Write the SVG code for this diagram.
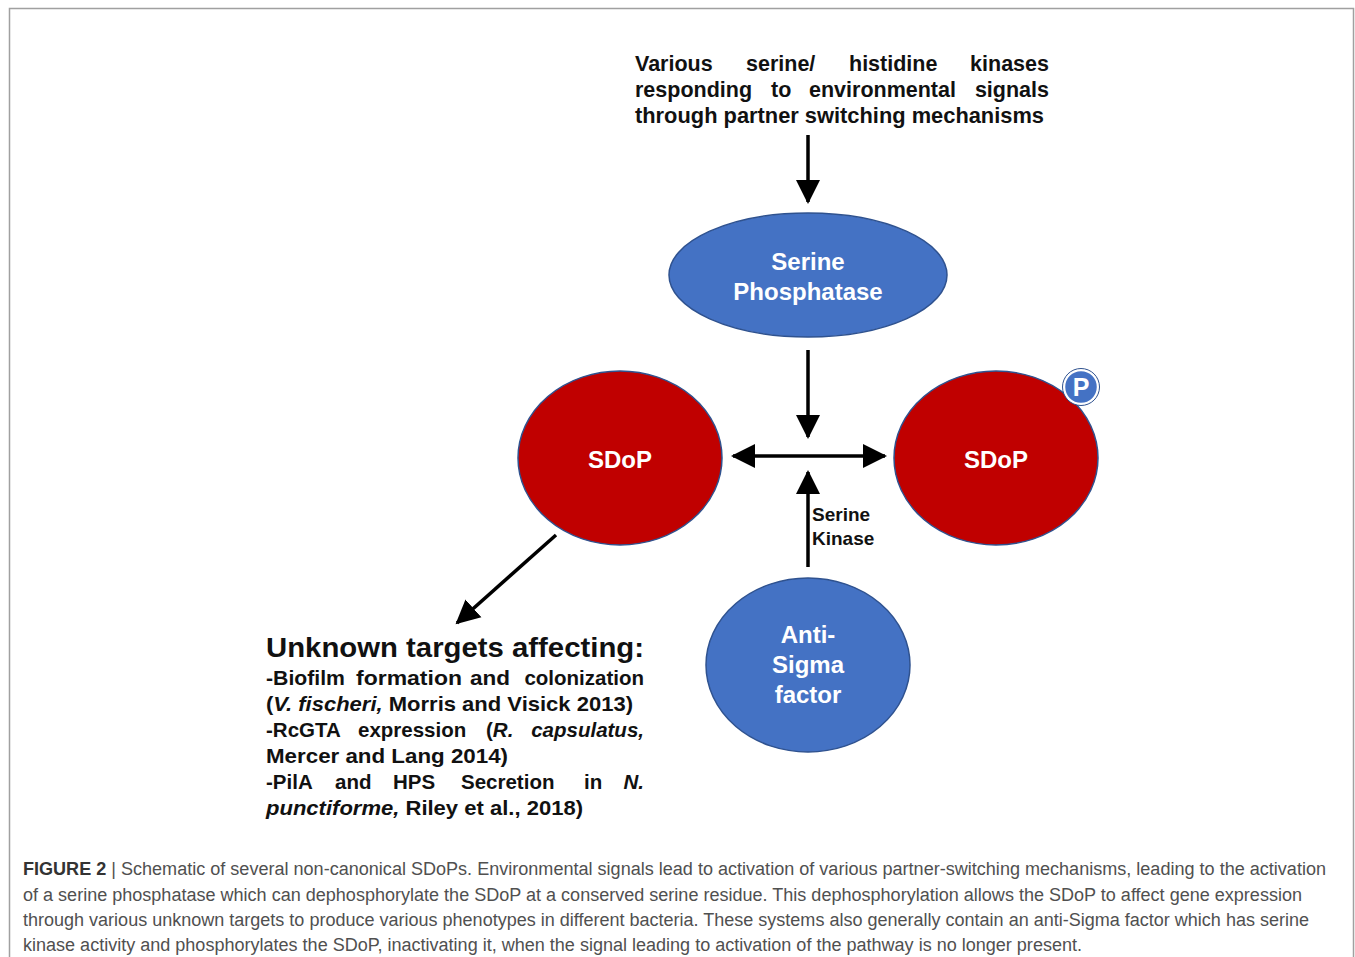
<svg xmlns="http://www.w3.org/2000/svg" width="1355" height="957" viewBox="0 0 1355 957">
<style>
.t{font-family:"Liberation Sans",Arial,sans-serif;font-weight:bold;fill:#111}
.w{font-family:"Liberation Sans",Arial,sans-serif;font-weight:bold;fill:#fff;text-anchor:middle}
.cap{font-family:"Liberation Sans",Arial,sans-serif;font-size:18px;fill:#505050}
.blue{fill:#4472C4;stroke:#2F528F;stroke-width:1.5}
.red{fill:#C00000;stroke:#2F528F;stroke-width:1.5}
.ln{stroke:#000;stroke-width:3.5;fill:none}
</style>
<defs>
<marker id="ah" markerUnits="userSpaceOnUse" markerWidth="26" markerHeight="26" viewBox="0 0 26 26" refX="22" refY="13" orient="auto-start-reverse">
<path d="M0,1 L24,13 L0,25 Z" fill="#000"/>
</marker>
</defs>
<rect x="9.5" y="8.5" width="1344" height="960" fill="#fff" stroke="#a0a0a0" stroke-width="1.5"/>

<g id="signals-text" class="t" font-size="21.5">
<text x="635" y="71">Various</text>
<text x="746" y="71">serine/</text>
<text x="849" y="71">histidine</text>
<text x="1049" y="71" text-anchor="end">kinases</text>
<text x="635" y="97">responding</text>
<text x="771" y="97">to</text>
<text x="809" y="97">environmental</text>
<text x="1049" y="97" text-anchor="end">signals</text>
<text x="635" y="123" textLength="409" lengthAdjust="spacingAndGlyphs">through partner switching mechanisms</text>
</g>

<g id="connectors">
<line class="ln" x1="808" y1="135" x2="808" y2="202" marker-end="url(#ah)"/>
<line class="ln" x1="808" y1="350" x2="808" y2="437" marker-end="url(#ah)"/>
<line class="ln" x1="733" y1="456" x2="885" y2="456" marker-start="url(#ah)" marker-end="url(#ah)"/>
<line class="ln" x1="808" y1="567" x2="808" y2="472" marker-end="url(#ah)"/>
<line class="ln" x1="556" y1="535" x2="457" y2="623" marker-end="url(#ah)"/>
</g>

<g id="serine-phosphatase">
<ellipse class="blue" cx="808" cy="275" rx="139" ry="62"/>
<text class="w" x="808" y="270" font-size="24">Serine</text>
<text class="w" x="808" y="300" font-size="24">Phosphatase</text>
</g>

<g id="sdop-left">
<ellipse class="red" cx="620" cy="458" rx="102" ry="87"/>
<text class="w" x="620" y="468" font-size="24">SDoP</text>
</g>

<g id="sdop-right">
<ellipse class="red" cx="996" cy="458" rx="102" ry="87"/>
<text class="w" x="996" y="468" font-size="24">SDoP</text>
<circle cx="1081" cy="387" r="17" fill="#4472C4" stroke="#fff" stroke-width="2.5"/>
<circle cx="1081" cy="387" r="18.5" fill="none" stroke="#2F528F" stroke-width="1"/>
<text class="w" x="1081" y="396" font-size="25">P</text>
</g>

<g id="serine-kinase-label" class="t" font-size="19">
<text x="812" y="521">Serine</text>
<text x="812" y="545">Kinase</text>
</g>

<g id="anti-sigma">
<ellipse class="blue" cx="808" cy="665" rx="102" ry="87"/>
<text class="w" x="808" y="643" font-size="24">Anti-</text>
<text class="w" x="808" y="673" font-size="24">Sigma</text>
<text class="w" x="808" y="703" font-size="24">factor</text>
</g>

<g id="targets-text" class="t" font-size="20.5">
<text x="266" y="657" font-size="27" textLength="378" lengthAdjust="spacingAndGlyphs">Unknown targets affecting:</text>
<text x="266" y="685" textLength="79" lengthAdjust="spacingAndGlyphs">-Biofilm</text>
<text x="356" y="685" textLength="106" lengthAdjust="spacingAndGlyphs">formation</text>
<text x="470" y="685" textLength="40" lengthAdjust="spacingAndGlyphs">and</text>
<text x="644" y="685" text-anchor="end">colonization</text>
<text x="266" y="711" textLength="367" lengthAdjust="spacingAndGlyphs">(<tspan font-style="italic">V. fischeri,</tspan> Morris and Visick 2013)</text>
<text x="266" y="737">-RcGTA</text>
<text x="358" y="737">expression</text>
<text x="486" y="737">(<tspan font-style="italic">R.</tspan></text>
<text x="644" y="737" text-anchor="end" font-style="italic">capsulatus,</text>
<text x="266" y="763" textLength="242" lengthAdjust="spacingAndGlyphs">Mercer and Lang 2014)</text>
<text x="266" y="789">-PilA</text>
<text x="335" y="789">and</text>
<text x="393" y="789">HPS</text>
<text x="461" y="789">Secretion</text>
<text x="584" y="789">in</text>
<text x="644" y="789" text-anchor="end" font-style="italic">N.</text>
<text x="266" y="815" textLength="317" lengthAdjust="spacingAndGlyphs"><tspan font-style="italic">punctiforme,</tspan> Riley et al., 2018)</text>
</g>

<g id="caption" class="cap">
<text x="23" y="875" textLength="1303" lengthAdjust="spacingAndGlyphs"><tspan font-weight="bold" fill="#333">FIGURE 2</tspan> | Schematic of several non-canonical SDoPs. Environmental signals lead to activation of various partner-switching mechanisms, leading to the activation</text>
<text x="23" y="901" textLength="1279" lengthAdjust="spacingAndGlyphs">of a serine phosphatase which can dephosphorylate the SDoP at a conserved serine residue. This dephosphorylation allows the SDoP to affect gene expression</text>
<text x="23" y="926" textLength="1286" lengthAdjust="spacingAndGlyphs">through various unknown targets to produce various phenotypes in different bacteria. These systems also generally contain an anti-Sigma factor which has serine</text>
<text x="23" y="951" textLength="1059" lengthAdjust="spacingAndGlyphs">kinase activity and phosphorylates the SDoP, inactivating it, when the signal leading to activation of the pathway is no longer present.</text>
</g>
</svg>
